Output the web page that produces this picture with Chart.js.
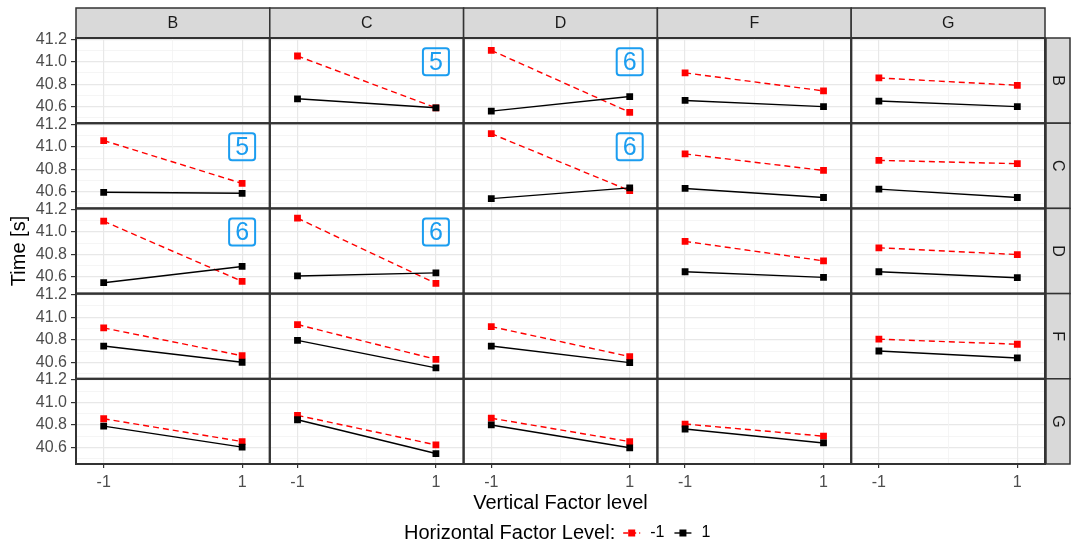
<!DOCTYPE html>
<html>
<head>
<meta charset="utf-8">
<script src="https://cdn.jsdelivr.net/npm/chart.js@4.4.1/dist/chart.umd.min.js"></script>
<style>
  html, body { margin: 0; padding: 0; background: #fff; }
  #wrap { position: relative; width: 1071px; height: 547px; }
</style>
</head>
<body>
<div id="wrap"><canvas id="facetChart"></canvas></div>
<script>
const facetLevels = ['B', 'C', 'D', 'F', 'G'];
const xLevels = [-1, 1];
const xTicks = [-1, 0, 1];
const yTicks = [40.5, 40.6, 40.7, 40.8, 40.9, 41.0, 41.1, 41.2];
const yLabels = ['40.6', '40.8', '41.0', '41.2'];

// Time [s] at vertical level -1 and 1, one pair per column facet B..G (null on the diagonal)
// horizontal factor level -1 (red, dashed)
const redRowB = [null, [41.05, 40.59], [41.10, 40.55], [40.90, 40.74], [40.855, 40.79]];
const redRowC = [[41.056, 40.675], null, [41.117, 40.61], [40.937, 40.79], [40.88, 40.85]];
const redRowD = [[41.096, 40.562], [41.123, 40.543], null, [40.917, 40.744], [40.86, 40.80]];
const redRowF = [[40.905, 40.658], [40.935, 40.626], [40.917, 40.65], null, [40.805, 40.76]];
const redRowG = [[40.855, 40.652], [40.885, 40.623], [40.86, 40.652], [40.808, 40.70], null];
// horizontal factor level 1 (black, solid)
const blackRowB = [null, [40.67, 40.59], [40.56, 40.69], [40.655, 40.60], [40.65, 40.60]];
const blackRowC = [[40.596, 40.587], null, [40.54, 40.635], [40.63, 40.55], [40.624, 40.55]];
const blackRowD = [[40.55, 40.694], [40.61, 40.637], null, [40.647, 40.597], [40.647, 40.594]];
const blackRowF = [[40.744, 40.60], [40.794, 40.55], [40.744, 40.597], null, [40.70, 40.638]];
const blackRowG = [[40.79, 40.603], [40.846, 40.546], [40.80, 40.597], [40.764, 40.64], null];

// boxed numbers in some panels
const badgeRows = ['B', 'B', 'C', 'C', 'D', 'D'];
const badgeCols = ['C', 'D', 'B', 'D', 'B', 'C'];
const badgeTexts = ['5', '6', '5', '6', '6', '6'];
const badgeX = 1;
const badgeY = 41.0;

const redRows = [redRowB, redRowC, redRowD, redRowF, redRowG];
const blackRows = [blackRowB, blackRowC, blackRowD, blackRowF, blackRowG];

const FONT = "'Liberation Sans', Arial, sans-serif";
const RED = '#ff0000';
const BLUE = '#1b9df0';

const datasets = [];
redRows.forEach((row, r) => {
  row.forEach((pair, c) => {
    if (!pair) return;
    datasets.push({
      label: '-1',
      data: xLevels.map((x, i) => ({ x: x, y: pair[i] })),
      xAxisID: 'x' + c,
      yAxisID: 'y' + r,
      showLine: true,
      borderColor: RED,
      backgroundColor: RED,
      borderWidth: 1.4,
      borderDash: [6, 4],
      pointStyle: 'rect',
      pointRadius: 4.8,
      pointBorderWidth: 0,
      order: 1
    });
    const bpair = blackRows[r][c];
    datasets.push({
      label: '1',
      data: xLevels.map((x, i) => ({ x: x, y: bpair[i] })),
      xAxisID: 'x' + c,
      yAxisID: 'y' + r,
      showLine: true,
      borderColor: '#000000',
      backgroundColor: '#000000',
      borderWidth: 1.4,
      pointStyle: 'rect',
      pointRadius: 4.8,
      pointBorderWidth: 0,
      order: 0
    });
  });
});

const isMajorY = v => yLabels.some(l => Math.abs(parseFloat(l) - v) < 1e-6);

const scales = {};
// stacked left axes are laid out bottom-up, so add the last row first
for (let r = facetLevels.length - 1; r >= 0; r--) {
  scales['y' + r] = {
    type: 'linear',
    axis: 'y',
    position: 'left',
    stack: 'rows',
    stackWeight: 1,
    min: 40.453,
    max: 41.21,
    afterBuildTicks: axis => { axis.ticks = yTicks.map(v => ({ value: v })); },
    afterFit: axis => { axis.width = 76; },
    border: { display: false },
    grid: {
      color: ctx => isMajorY(ctx.tick.value) ? '#e8e8e8' : '#f2f2f2',
      lineWidth: ctx => isMajorY(ctx.tick.value) ? 1.2 : 0.8,
      tickColor: ctx => isMajorY(ctx.tick.value) ? '#333333' : 'rgba(0,0,0,0)',
      tickLength: 5,
      drawTicks: true
    },
    ticks: {
      autoSkip: false,
      padding: 4,
      color: '#4d4d4d',
      font: { family: FONT, size: 16 },
      callback: v => isMajorY(v) ? v.toFixed(1) : ''
    }
  };
}
facetLevels.forEach((lvl, c) => {
  scales['x' + c] = {
    type: 'linear',
    axis: 'x',
    position: 'bottom',
    stack: 'cols',
    stackWeight: 1,
    min: -1.4,
    max: 1.4,
    afterBuildTicks: axis => { axis.ticks = xTicks.map(v => ({ value: v })); },
    afterFit: axis => { axis.height = 30; },
    border: { display: false },
    grid: {
      color: ctx => ctx.tick.value === 0 ? '#f2f2f2' : '#e8e8e8',
      lineWidth: ctx => ctx.tick.value === 0 ? 0.8 : 1.2,
      tickColor: ctx => ctx.tick.value === 0 ? 'rgba(0,0,0,0)' : '#333333',
      tickLength: 4,
      drawTicks: true
    },
    ticks: {
      autoSkip: false,
      maxRotation: 0,
      padding: 5,
      color: '#4d4d4d',
      font: { family: FONT, size: 16 },
      callback: v => xLevels.includes(v) ? String(v) : ''
    }
  };
});

function roundRect(ctx, x, y, w, h, r) {
  ctx.beginPath();
  ctx.moveTo(x + r, y);
  ctx.lineTo(x + w - r, y);
  ctx.arcTo(x + w, y, x + w, y + r, r);
  ctx.lineTo(x + w, y + h - r);
  ctx.arcTo(x + w, y + h, x + w - r, y + h, r);
  ctx.lineTo(x + r, y + h);
  ctx.arcTo(x, y + h, x, y + h - r, r);
  ctx.lineTo(x, y + r);
  ctx.arcTo(x, y, x + r, y, r);
  ctx.closePath();
}

const facetDecor = {
  id: 'facetDecor',
  afterDraw(chart) {
    const ctx = chart.ctx;
    const area = chart.chartArea;
    const cols = facetLevels.map((l, i) => chart.scales['x' + i]);
    const rows = facetLevels.map((l, i) => chart.scales['y' + i]);
    ctx.save();

    // top strips
    cols.forEach((s, i) => {
      ctx.fillStyle = '#d9d9d9';
      ctx.fillRect(s.left, 8, s.right - s.left, area.top - 8);
      ctx.strokeStyle = '#333333';
      ctx.lineWidth = 1.5;
      ctx.strokeRect(s.left, 8, s.right - s.left, area.top - 8);
      ctx.fillStyle = '#1a1a1a';
      ctx.font = '16px ' + FONT;
      ctx.textAlign = 'center';
      ctx.textBaseline = 'middle';
      ctx.fillText(facetLevels[i], (s.left + s.right) / 2, (8 + area.top) / 2 + 1);
    });
    // right strips
    rows.forEach((s, i) => {
      const x0 = area.right + 1;
      ctx.fillStyle = '#d9d9d9';
      ctx.fillRect(x0, s.top, 1070 - x0, s.bottom - s.top);
      ctx.strokeStyle = '#333333';
      ctx.lineWidth = 1.5;
      ctx.strokeRect(x0, s.top, 1070 - x0, s.bottom - s.top);
      ctx.save();
      ctx.translate((x0 + 1070) / 2, (s.top + s.bottom) / 2);
      ctx.rotate(Math.PI / 2);
      ctx.fillStyle = '#1a1a1a';
      ctx.font = '16px ' + FONT;
      ctx.textAlign = 'center';
      ctx.textBaseline = 'middle';
      ctx.fillText(facetLevels[i], 0, 1);
      ctx.restore();
    });

    // panel borders
    ctx.strokeStyle = '#333333';
    ctx.lineWidth = 2;
    rows.forEach(ys => cols.forEach(xs => {
      ctx.strokeRect(xs.left, ys.top, xs.right - xs.left, ys.bottom - ys.top);
    }));

    // badges
    badgeTexts.forEach((t, i) => {
      const xs = chart.scales['x' + facetLevels.indexOf(badgeCols[i])];
      const ys = chart.scales['y' + facetLevels.indexOf(badgeRows[i])];
      const cx = xs.getPixelForValue(badgeX);
      const cy = ys.getPixelForValue(badgeY);
      ctx.strokeStyle = BLUE;
      ctx.lineWidth = 2;
      roundRect(ctx, cx - 13, cy - 13.5, 26, 27, 3);
      ctx.stroke();
      ctx.fillStyle = BLUE;
      ctx.font = '25px ' + FONT;
      ctx.textAlign = 'center';
      ctx.textBaseline = 'middle';
      ctx.fillText(t, cx, cy + 1);
    });

    // axis titles
    ctx.fillStyle = '#000000';
    ctx.font = '20px ' + FONT;
    ctx.textAlign = 'center';
    ctx.textBaseline = 'middle';
    ctx.fillText('Vertical Factor level', (area.left + area.right) / 2, 503);
    ctx.save();
    ctx.translate(19, (area.top + area.bottom) / 2);
    ctx.rotate(-Math.PI / 2);
    ctx.fillText('Time [s]', 0, 0);
    ctx.restore();

    // legend
    const ly = 533;
    ctx.textAlign = 'left';
    ctx.font = '20px ' + FONT;
    const title = 'Horizontal Factor Level:';
    let lx = 404;
    ctx.fillText(title, lx, ly);
    lx += ctx.measureText(title).width + 8;
    const keys = [
      { label: '-1', color: RED, dash: [5, 3] },
      { label: '1', color: '#000000', dash: [] }
    ];
    keys.forEach(k => {
      ctx.strokeStyle = k.color;
      ctx.lineWidth = 1.4;
      ctx.setLineDash(k.dash);
      ctx.beginPath();
      ctx.moveTo(lx, ly);
      ctx.lineTo(lx + 17, ly);
      ctx.stroke();
      ctx.setLineDash([]);
      ctx.fillStyle = k.color;
      ctx.fillRect(lx + 5, ly - 3.5, 7, 7);
      lx += 27;
      ctx.fillStyle = '#000000';
      ctx.font = '16px ' + FONT;
      ctx.fillText(k.label, lx, ly);
      lx += ctx.measureText(k.label).width + 10;
    });

    ctx.restore();
  }
};

new Chart(document.getElementById('facetChart').getContext('2d'), {
  type: 'scatter',
  data: { datasets: datasets },
  options: {
    responsive: true,
    maintainAspectRatio: false,
    animation: false,
    layout: { padding: { left: 0, top: 38, right: 26, bottom: 53 } },
    scales: scales,
    plugins: {
      legend: { display: false },
      tooltip: { enabled: false }
    }
  },
  plugins: [facetDecor]
});
</script>
</body>
</html>
